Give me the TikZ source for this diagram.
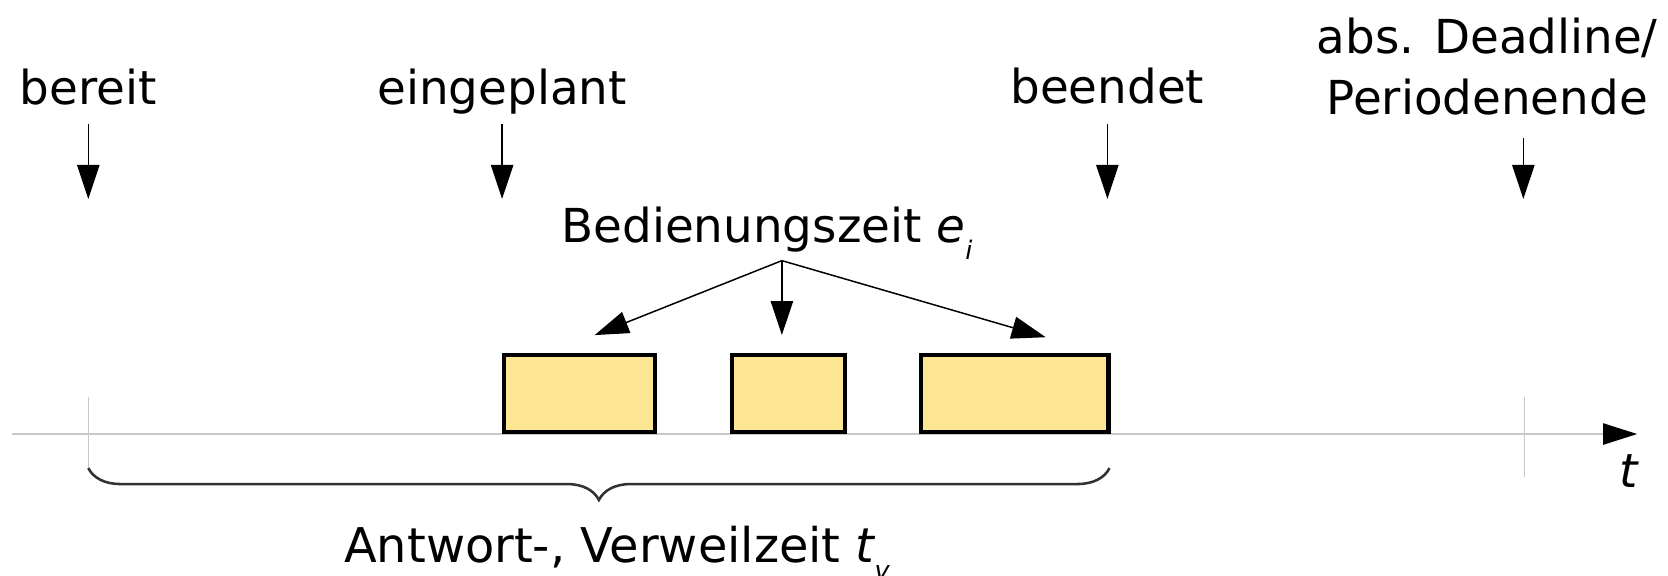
\documentclass[tikz,border=0pt]{standalone}
\usepackage{fontspec}
\setmainfont{DejaVu Sans}
\usetikzlibrary{arrows.meta,decorations.pathreplacing}
\definecolor{boxfill}{RGB}{252,230,148}
\definecolor{axisgray}{RGB}{200,200,200}
\definecolor{bracegray}{RGB}{50,50,50}
\newcommand{\subsc}[1]{\raisebox{-8pt}{\fontsize{12}{14}\selectfont\itshape #1}}
\begin{document}
\begin{tikzpicture}[x=0.5pt,y=-0.5pt,
  lbl/.style={font=\fontsize{22}{29}\selectfont, inner sep=0pt, align=center},
  evarrow/.style={draw=black, line width=0.7pt, -{Triangle[length=16pt,width=10.5pt]}},
  jobbox/.style={draw=black, fill=boxfill, line width=2pt, inner sep=0pt, anchor=south west, minimum height=36pt},
  axisline/.style={draw=axisgray, line width=0.75pt, -{Triangle[length=16pt,width=10pt,color=black]}},
  tickline/.style={draw=axisgray, line width=0.6pt},
  bracestyle/.style={draw=bracegray, line width=1.2pt, decorate, decoration={brace, amplitude=15pt, mirror}}
]
\useasboundingbox (0,0) rectangle (1568,541);

% time axis
\coordinate (axL) at (11,408);
\coordinate (axR) at (1539,408);
\draw[axisline] (axL) -- (axR);
\node[lbl, anchor=base] (tlabel) at (1531,458) {\itshape t};

% ticks
\coordinate (tk0a) at (83,373);  \coordinate (tk0b) at (83,440);
\coordinate (tk1a) at (1433,373); \coordinate (tk1b) at (1433,448);
\draw[tickline] (tk0a) -- (tk0b);
\draw[tickline] (tk1a) -- (tk1b);

% job boxes
\node[jobbox, minimum width=71pt] (b1) at (472,408) {};
\node[jobbox, minimum width=53pt] (b2) at (686,408) {};
\node[jobbox, minimum width=88pt] (b3) at (864,408) {};

% event labels and arrows
\node[lbl, anchor=base] (bereit) at (83,98) {bereit};
\node[lbl, anchor=base] (eingeplant) at (472,98) {eingeplant};
\node[lbl, anchor=base] (beendet) at (1041,97) {beendet};
\node[lbl, anchor=base] (deadline) at (1398,108) {abs. Deadline/\\Periodenende};

\coordinate (a0s) at (83,117);   \coordinate (a0e) at (83,187);
\coordinate (a1s) at (472,117);  \coordinate (a1e) at (472,187);
\coordinate (a2s) at (1041,117); \coordinate (a2e) at (1041,187);
\coordinate (a3s) at (1432,130); \coordinate (a3e) at (1432,187);
\draw[evarrow] (a0s) -- (a0e);
\draw[evarrow] (a1s) -- (a1e);
\draw[evarrow] (a2s) -- (a2e);
\draw[evarrow] (a3s) -- (a3e);

% service time
\node[lbl, anchor=base] (bed) at (721,228) {Bedienungszeit {\itshape e}\subsc{i}};
\coordinate (bsrc) at (735,245);
\coordinate (bt1) at (559,315);
\coordinate (bt2) at (735,315);
\coordinate (bt3) at (983,317);
\draw[evarrow] (bsrc) -- (bt1);
\draw[evarrow] (bsrc) -- (bt2);
\draw[evarrow] (bsrc) -- (bt3);

% response time brace
\coordinate (brL) at (83,440);
\coordinate (brR) at (1043,440);
\draw[bracestyle] (brL) -- (brR);
\node[lbl, anchor=base] (antwort) at (580,529) {\fontsize{22.5}{29}\selectfont Antwort-, Verweilzeit {\itshape t}\subsc{v}};
\end{tikzpicture}
\end{document}
